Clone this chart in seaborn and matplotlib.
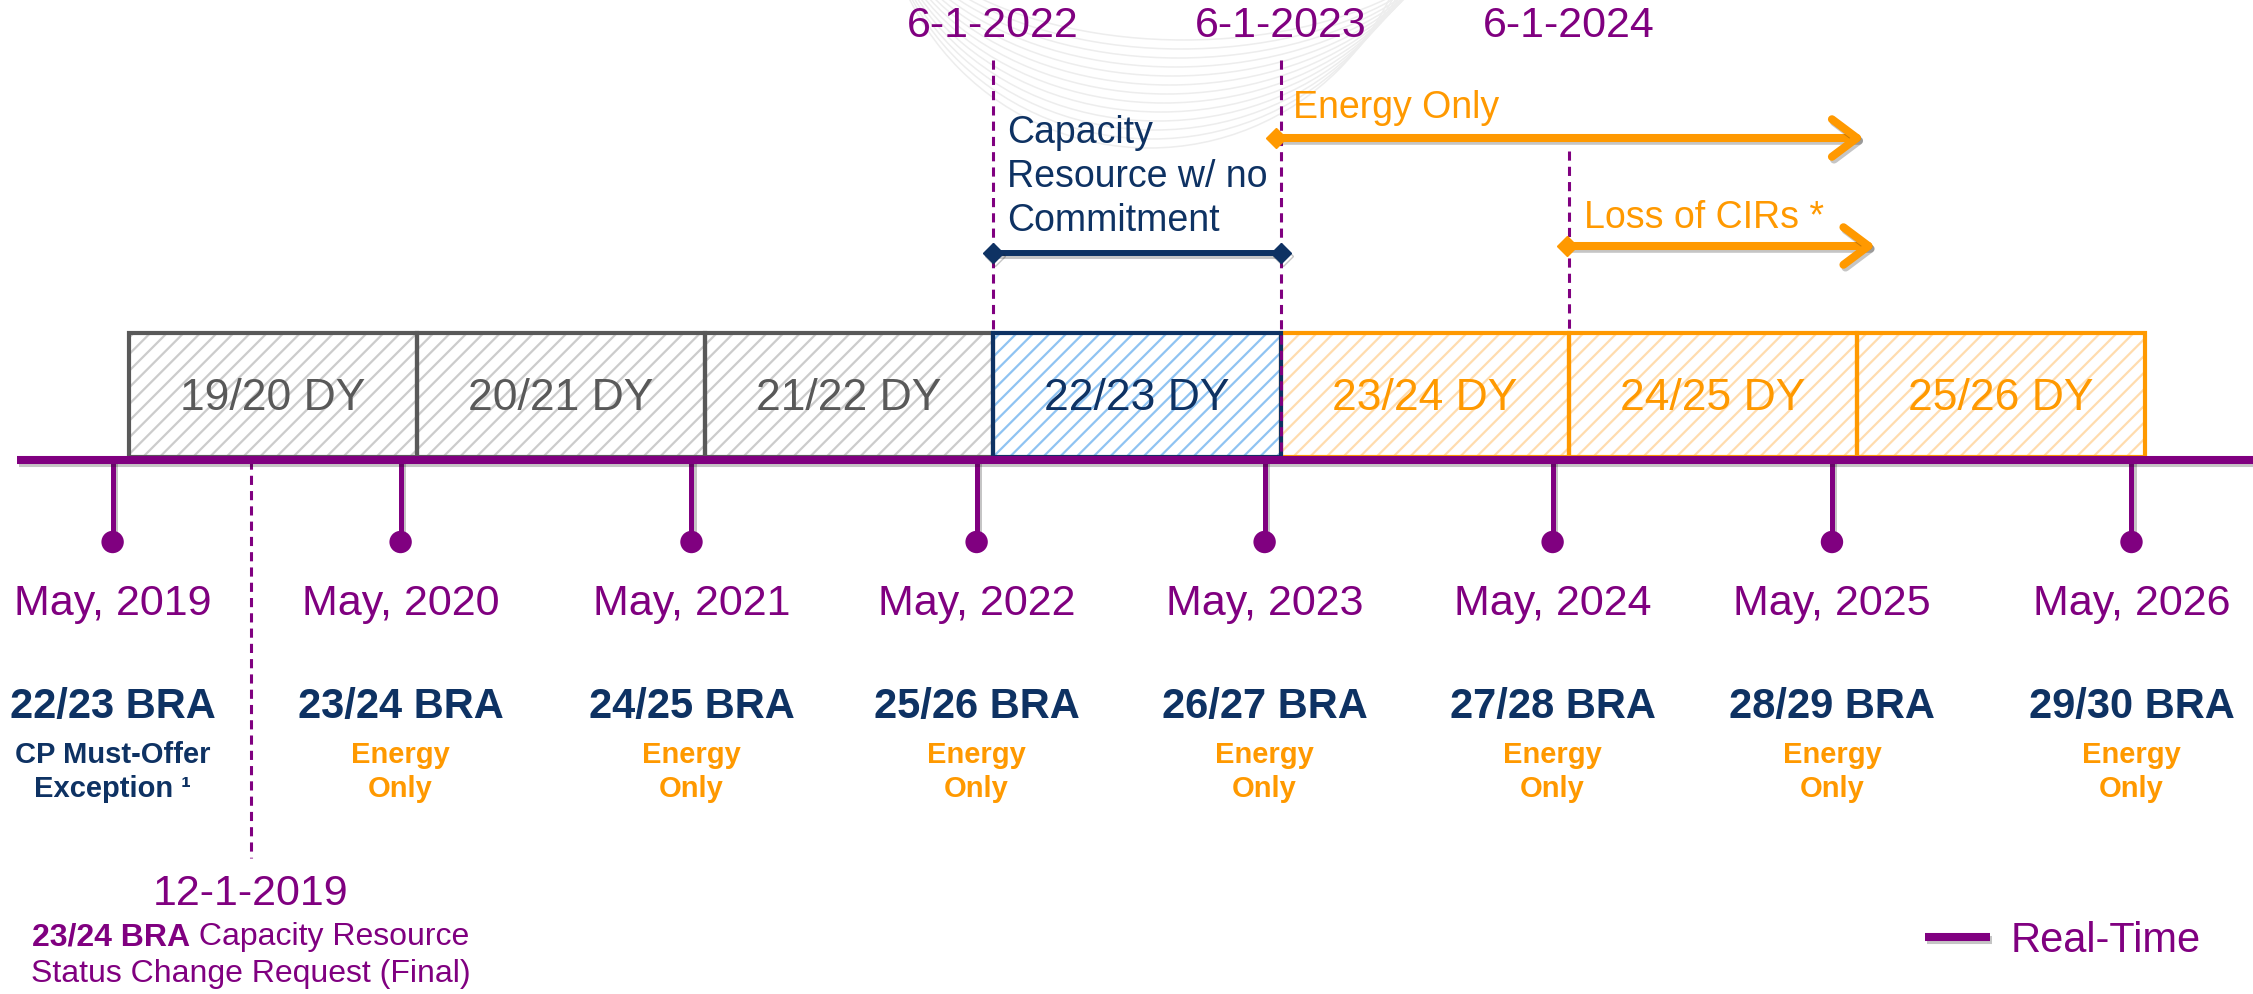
"""
Capacity resource timeline: delivery years, BRA auctions and status changes.
Recreated as a seaborn/matplotlib diagram on a decimal-year x axis.
"""

import numpy as np
import matplotlib
matplotlib.use("Agg")
import matplotlib.pyplot as plt
import matplotlib.patheffects as pe
from matplotlib import font_manager
from matplotlib.patches import Arc
from matplotlib.lines import Line2D
import seaborn as sns

# ── Data ──────────────────────────────────────────────────────────────────── #
dy_labels = ["19/20 DY", "20/21 DY", "21/22 DY", "22/23 DY", "23/24 DY", "24/25 DY", "25/26 DY"]
dy_start  = [2019.417, 2020.417, 2021.417, 2022.417, 2023.417, 2024.417, 2025.417]
dy_status = ["past", "past", "past", "current", "energy", "energy", "energy"]

month_labels = ["May, 2019", "May, 2020", "May, 2021", "May, 2022",
                "May, 2023", "May, 2024", "May, 2025", "May, 2026"]
month_x      = [2019.36, 2020.36, 2021.37, 2022.36, 2023.36, 2024.36, 2025.33, 2026.37]
bra_labels   = ["22/23 BRA", "23/24 BRA", "24/25 BRA", "25/26 BRA",
                "26/27 BRA", "27/28 BRA", "28/29 BRA", "29/30 BRA"]
bra_notes    = ["CP Must-Offer\nException ¹"] + ["Energy\nOnly"] * 7

milestone_labels = ["6-1-2022", "6-1-2023", "6-1-2024"]
milestone_x      = [2022.417, 2023.417, 2024.417]

scr_label = "12-1-2019"
scr_x     = 2019.84

no_commit_span = [2022.417, 2023.417]
energy_span    = [2023.40, 2025.44]
cir_span       = [2024.41, 2025.48]

# ── Style ─────────────────────────────────────────────────────────────────── #
PURPLE = "#800080"
NAVY   = "#0e3263"
ORANGE = "#ff9900"
GREY   = "#595959"

STYLE = {
    "past":    dict(edge=GREY,   hatch="#cccccc", text=GREY),
    "current": dict(edge=NAVY,   hatch="#8fc3f2", text=NAVY),
    "energy":  dict(edge=ORANGE, hatch="#ffdcae", text=ORANGE),
}

W_PX, H_PX = 2253, 994
PX_PER_YEAR = 288.0
XMIN = 2018.969
XMAX = XMIN + W_PX / PX_PER_YEAR

# rows measured from the top of the slide
Y_TIMELINE = 460
Y_BOX_TOP, Y_BOX_BOT = 333, 457

sns.set_theme(style="white")
plt.rcParams["font.family"] = ["Liberation Sans", "DejaVu Sans"]
plt.rcParams["hatch.linewidth"] = 1.6

names = {f.name for f in font_manager.fontManager.ttflist}
HAS_NARROW = "Liberation Sans Narrow" in names
NARROW = ["Liberation Sans Narrow", "Liberation Sans", "DejaVu Sans"] if HAS_NARROW \
    else ["Liberation Sans", "DejaVu Sans"]
DY_SIZE = 35 if HAS_NARROW else 32
MONTH_SIZE = 36 if HAS_NARROW else 31

shadow = [pe.SimpleLineShadow(offset=(1.5, -2), alpha=0.25), pe.Normal()]

fig = plt.figure(figsize=(W_PX / 100, H_PX / 100), dpi=100)
ax = fig.add_axes([0, 0, 1, 1])
ax.set_xlim(XMIN, XMAX)
ax.set_ylim(H_PX, 0)
ax.axis("off")

# ── Faint background arcs (slide watermark) ───────────────────────────────── #
for i in range(13):
    bottom = 40 + 9 * i
    ax.add_patch(Arc((2023.08 - 0.01 * i, -120), 2.1 - 0.02 * i, 2 * (bottom + 120),
                     theta1=0, theta2=180, color="#ededed", lw=1.1, zorder=0))

# ── Delivery-year boxes ───────────────────────────────────────────────────── #
for label, x0, status in zip(dy_labels, dy_start, dy_status):
    st = STYLE[status]
    ax.bar(x0, Y_BOX_BOT - Y_BOX_TOP, width=1.0, bottom=Y_BOX_TOP, align="edge",
           color="white", edgecolor=st["hatch"], hatch="//", lw=0, zorder=1)
    ax.bar(x0, Y_BOX_BOT - Y_BOX_TOP, width=1.0, bottom=Y_BOX_TOP, align="edge",
           fill=False, edgecolor=st["edge"], lw=3, zorder=2 + (status == "current"))
    ax.text(x0 + 0.5, 398, label, ha="center", va="center", color=st["text"],
            fontsize=DY_SIZE, family=NARROW, zorder=4)

# ── Milestone dashed lines ────────────────────────────────────────────────── #
dash = dict(color=PURPLE, lw=2.2, ls=(0, (3, 2)), zorder=5)
for lab, x in zip(milestone_labels, milestone_x):
    top = 151 if lab.endswith("2024") else 60
    bot = Y_BOX_BOT if lab.endswith("2023") else Y_BOX_TOP
    ax.plot([x, x], [top, bot], **dash)
    ax.text(x, 26, lab, ha="center", va="center", color=PURPLE, fontsize=31)

ax.plot([scr_x, scr_x], [Y_TIMELINE, 858], **dash)

# ── Timeline, stems and dots ──────────────────────────────────────────────── #
ax.plot([XMIN + 17 / PX_PER_YEAR, XMAX], [Y_TIMELINE, Y_TIMELINE], color=PURPLE,
        lw=5.8, solid_capstyle="butt", zorder=6, path_effects=shadow)
ax.vlines(month_x, Y_TIMELINE, 542, color=PURPLE, lw=3.6, zorder=5, path_effects=shadow)
sns.scatterplot(x=month_x, y=[542] * len(month_x), ax=ax, s=260, color=PURPLE,
                edgecolor="none", zorder=6, legend=False)

for x, m, b, n in zip(month_x, month_labels, bra_labels, bra_notes):
    ax.text(x, 604, m, ha="center", va="center", color=PURPLE,
            fontsize=MONTH_SIZE, family=NARROW)
    ax.text(x, 707, b, ha="center", va="center", color=NAVY, fontsize=30, weight="bold")
    ax.text(x, 772, n, ha="center", va="center", color=NAVY if "CP" in n else ORANGE,
            fontsize=21, weight="bold", linespacing=1.25)

# ── Capacity resource with no commitment ──────────────────────────────────── #
ax.plot(no_commit_span, [253, 253], color=NAVY, lw=4.3, marker="D", ms=10,
        zorder=6, path_effects=shadow)
ax.text(2022.466, 177, "Capacity\nResource w/ no\nCommitment", ha="left", va="center",
        color=NAVY, fontsize=27, linespacing=1.27)

# ── Energy-only and loss of CIRs arrows ───────────────────────────────────── #
for span, y, lab, ty in [(energy_span, 138, "Energy Only", 108),
                         (cir_span, 246, "Loss of CIRs *", 218)]:
    ax.annotate("", xy=(span[1], y), xytext=(span[0], y),
                arrowprops=dict(arrowstyle="->,head_length=0.6,head_width=0.45",
                                color=ORANGE, lw=5.8, mutation_scale=30,
                                shrinkA=0, shrinkB=0, capstyle="round", joinstyle="round",
                                path_effects=shadow), zorder=6)
    ax.plot(span[0], y, marker="D", ms=10, color=ORANGE, zorder=7)
    ax.text(span[0] + 0.06, ty, lab, ha="left", va="center", color=ORANGE, fontsize=27)

# ── Status change request note ────────────────────────────────────────────── #
ax.text(scr_x, 894, scr_label, ha="center", va="center", color=PURPLE, fontsize=31)
t1 = ax.text(scr_x, 937, "23/24 BRA", ha="left", va="center", color=PURPLE,
             fontsize=23, weight="bold")
t2 = ax.text(scr_x, 937, " Capacity Resource", ha="left", va="center", color=PURPLE,
             fontsize=23)
r = fig.canvas.get_renderer()
w1 = t1.get_window_extent(r).width
w2 = t2.get_window_extent(r).width
left = scr_x - (w1 + w2) / 2 / PX_PER_YEAR
t1.set_x(left)
t2.set_x(left + w1 / PX_PER_YEAR)
ax.text(scr_x, 974, "Status Change Request (Final)", ha="center", va="center",
        color=PURPLE, fontsize=23)

# ── Legend ────────────────────────────────────────────────────────────────── #
handle = Line2D([], [], color=PURPLE, lw=5.8, solid_capstyle="butt", path_effects=shadow)
ax.legend([handle], ["Real-Time"], loc="center left",
          bbox_to_anchor=(1925 / W_PX, 1 - 941 / H_PX), frameon=False, fontsize=30,
          handlelength=1.55, handletextpad=0.5, borderpad=0, borderaxespad=0,
          labelcolor=PURPLE)

fig.savefig("out.png", dpi=100)
